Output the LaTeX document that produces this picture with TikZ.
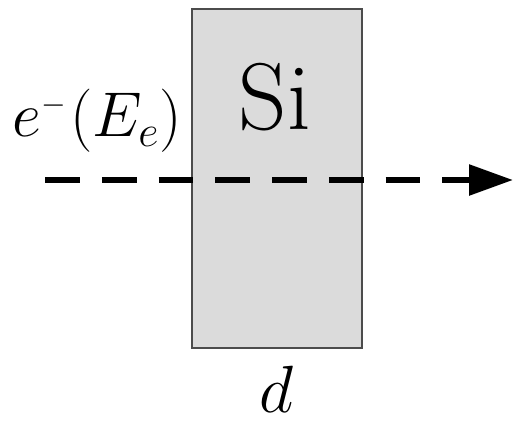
\RequirePackage{fix-cm}
\documentclass[tikz,border=0pt]{standalone}
\usetikzlibrary{arrows.meta}
\tikzset{>=Stealth,every node/.style={inner sep=0pt},slab/.style={draw=black!70,line width=.9pt,fill=black!14},beam/.style={line width=3.4pt,dash pattern=on 19.8pt off 12.5pt,-{Triangle[length=25pt,width=17pt]}}}
\begin{document}
\begin{tikzpicture}[x=0.02cm,y=-0.02cm]
\useasboundingbox (0,0) rectangle (524,423);
\node[slab,minimum width=170*0.02cm,minimum height=339*0.02cm] (slab) at (277,178.5){};
\node[font=\fontsize{54}{58}\selectfont] (si) at (275,97){Si};
\node[font=\fontsize{36}{40}\selectfont] (elec) at (97,121){$e^{\scriptscriptstyle -}\mkern1mu(E_e)$};
\node[font=\fontsize{38}{42}\selectfont] (thick) at (276,389){$d$};
\coordinate (in) at (45,180);\coordinate (out) at (513,180);
\draw[beam] (in)--(out);
\end{tikzpicture}
\end{document}
